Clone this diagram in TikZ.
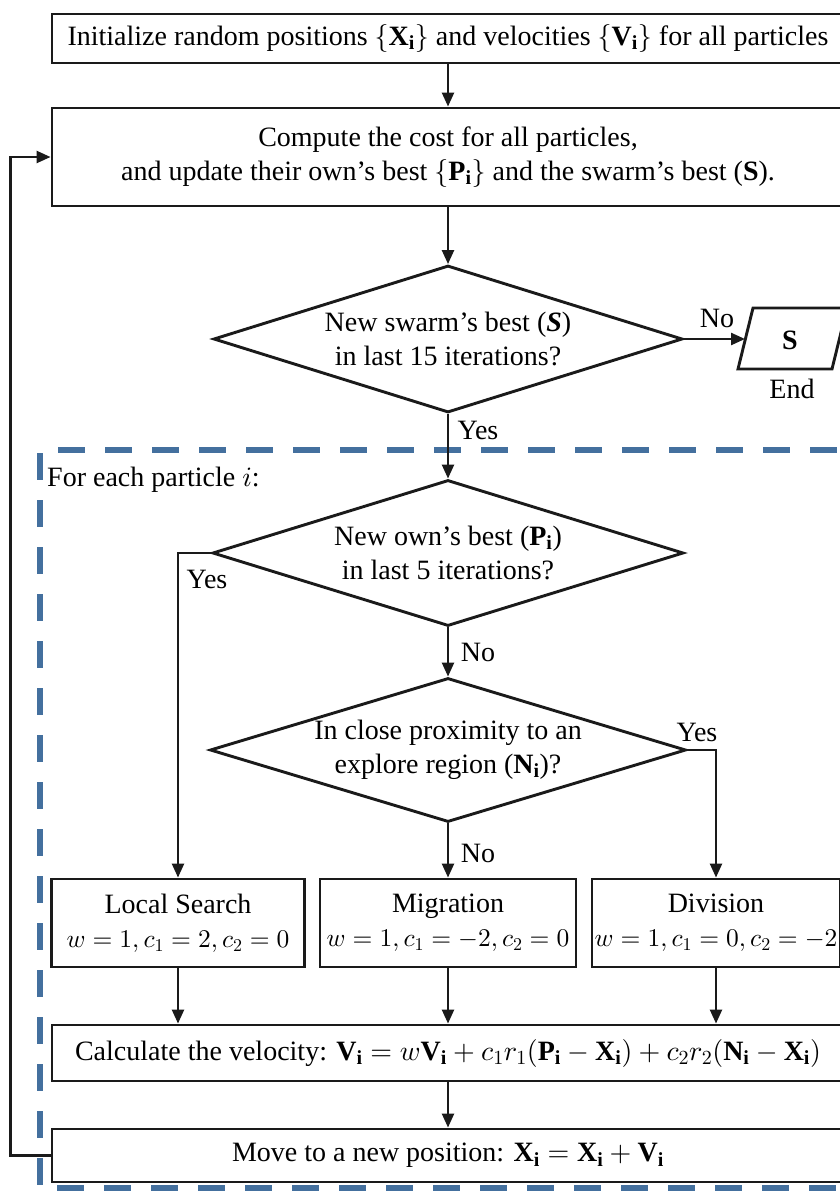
\documentclass[tikz,border=0pt]{standalone}
\usepackage{fontspec}
\setmainfont{Liberation Serif}
\DeclareFontShape{OML}{cmm}{m}{it}{<->cmmi10}{}
\DeclareFontShape{OML}{cmm}{b}{it}{<->cmmib10}{}
\DeclareFontShape{OMS}{cmsy}{m}{n}{<->cmsy10}{}
\DeclareFontShape{OMS}{cmsy}{b}{n}{<->cmbsy10}{}
\DeclareFontShape{OT1}{cmr}{m}{n}{<->cmr10}{}
\DeclareFontShape{OT1}{cmr}{bx}{n}{<->cmbx10}{}
\DeclareFontShape{OMX}{cmex}{m}{n}{<->cmex10}{}
\DeclareMathSizes{28}{28}{20}{14}
\DeclareMathSizes{25.5}{25.5}{18}{13}
\newcommand{\parmath}[1]{{\fontsize{25.5}{34}\selectfont$#1$}}
\usetikzlibrary{shapes.geometric,arrows.meta}
\definecolor{dashblue}{HTML}{44709E}
\definecolor{ink}{HTML}{1A1A1A}
\begin{document}
\begin{tikzpicture}[x=1pt,y=-1pt,
  font=\fontsize{28}{34}\selectfont,
  box/.style={draw=ink, line width=2.9pt, inner sep=0pt, align=center},
  dec/.style={diamond, draw=ink, line width=2.9pt, inner sep=0pt, align=center},
  arr/.style={draw=ink, line width=2.4pt, -{Triangle[length=14pt,width=12pt]}},
  lbl/.style={inner sep=0pt},
  dashline/.style={draw=dashblue, line width=6pt, dash pattern=on 27pt off 20pt}]
\useasboundingbox (0,0) rectangle (840,1191);
\clip (0,0) rectangle (840,1191);

% dashed frame
\draw[dashline] (58,450) -- (880,450);
\draw[dashline] (40,453) -- (40,1188) -- (880,1188);

% nodes
\node[box, minimum width=792pt, minimum height=49pt] (init) at (448,38.5)
  {Initialize random positions $\{\mathbf{X}_\mathbf{i}\}$ and velocities $\{\mathbf{V}_\mathbf{i}\}$ for all particles};
\node[box, minimum width=792pt, minimum height=98pt] (comp) at (448,157)
  {Compute the cost for all particles,\\and update their own’s best $\{\mathbf{P}_\mathbf{i}\}$ and the swarm’s best (\textbf{S}).};
\node[dec, shape aspect=3.19, minimum width=469pt, minimum height=147pt] (d1) at (448,339)
  {New swarm’s best (\textbf{\textit{S}})\\in last 15 iterations?};
\coordinate (pA) at (738,369);
\coordinate (pB) at (753,308);
\coordinate (pC) at (847,308);
\coordinate (pD) at (832,369);
\draw[ink, line width=2.9pt] (pA) -- (pB) -- (pC) -- (pD) -- cycle;
\node[lbl] (out) at (790,340) {\textbf{S}};
\coordinate (outL) at (745,339);
\node[lbl] (endl) at (792,389) {End};

\node[lbl, anchor=west] (fe) at (47,480) {For each particle $i$:};

\node[dec, shape aspect=3.22, minimum width=471pt, minimum height=146pt] (d2) at (448,553)
  {New own’s best ($\mathbf{P}_\mathbf{i}$)\\in last 5 iterations?};
\node[dec, shape aspect=3.3, minimum width=476pt, minimum height=144pt] (d3) at (448,750)
  {In close proximity to an\\explore region ($\mathbf{N}_\mathbf{i}$)?};

\node[box, minimum width=253pt, minimum height=88pt] (ls) at (178,923)
  {Local Search\\\parmath{w=1, c_1=2, c_2=0}};
\node[box, minimum width=256pt, minimum height=88pt] (mig) at (448,923)
  {Migration\\\parmath{w=1, c_1=-2, c_2=0}};
\node[box, minimum width=248pt, minimum height=88pt] (div) at (716,923)
  {Division\\\parmath{w=1, c_1=0, c_2=-2}};

\node[box, minimum width=792pt, minimum height=56pt] (calc) at (448,1053)
  {Calculate the velocity: $\mathbf{V}_\mathbf{i}=w\mathbf{V}_\mathbf{i}+c_1r_1(\mathbf{P}_\mathbf{i}-\mathbf{X}_\mathbf{i})+c_2r_2(\mathbf{N}_\mathbf{i}-\mathbf{X}_\mathbf{i})$};
\node[box, minimum width=792pt, minimum height=53pt] (move) at (448,1155.5)
  {Move to a new position: $\mathbf{X}_\mathbf{i}=\mathbf{X}_\mathbf{i}+\mathbf{V}_\mathbf{i}$};

% connectors
\draw[arr] (init) -- (comp);
\draw[arr] (comp) -- (d1);
\draw[arr] (d1.east) -- (outL);
\draw[arr] (d1) -- (d2);
\draw[arr] (d2.west) -| (ls.north);
\draw[arr] (d2) -- (d3);
\draw[arr] (d3.east) -| (div.north);
\draw[arr] (d3) -- (mig);
\draw[arr] (ls) -- (ls |- calc.north);
\draw[arr] (mig) -- (mig |- calc.north);
\draw[arr] (div) -- (div |- calc.north);
\draw[arr] (calc) -- (move);
\draw[arr] (move.west) -- ++(-40,0) |- (comp.west);

% labels
\node[lbl] (no1) at (717,318) {No};
\node[lbl] (yes1) at (478,430) {Yes};
\node[lbl] (yes2) at (207,579) {Yes};
\node[lbl] (no2) at (478,652) {No};
\node[lbl] (yes3) at (697,732) {Yes};
\node[lbl] (no3) at (478,853) {No};
\end{tikzpicture}
\end{document}
